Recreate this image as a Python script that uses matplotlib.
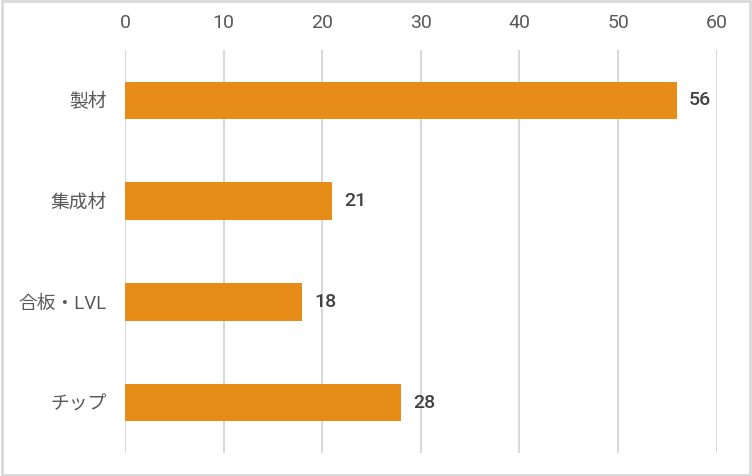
import matplotlib
matplotlib.use('Agg')
import matplotlib.pyplot as plt

plt.rcParams['font.family'] = ['Roboto', 'Noto Sans CJK JP', 'DejaVu Sans']

categories = ['製材', '集成材', '合板・LVL', 'チップ']
values = [56, 21, 18, 28]
x_ticks = [0, 10, 20, 30, 40, 50, 60]

bar_color = '#E68C17'
grid_color = '#D9D9D9'
label_color = '#595959'

fig = plt.figure(figsize=(7.52, 4.76), dpi=100)
ax = fig.add_axes([0.1662, 0.0483, 0.953 - 0.1662, 0.895 - 0.0483])

y = list(range(len(categories)))
ax.barh(y, values, height=0.37, color=bar_color, zorder=3)

for yi, v in zip(y, values):
    ax.text(v + 1.2, yi, str(v), va='center', ha='left',
            fontsize=14, color='#404040', fontweight='medium')

ax.set_xlim(0, 60)
ax.set_ylim(len(categories) - 0.5, -0.5)
ax.set_xticks(x_ticks)
ax.set_yticks(y)
ax.set_yticklabels(categories)
ax.xaxis.tick_top()
ax.tick_params(axis='x', length=0, pad=13, labelsize=14, colors=label_color)
ax.tick_params(axis='y', length=0, pad=13, labelsize=13.5, colors=label_color)

ax.grid(axis='x', color=grid_color, linewidth=1.5, zorder=0)
for s in ax.spines.values():
    s.set_visible(False)

# outer frame
fig.patches.append(plt.Rectangle((0.002, 0.003), 0.996, 0.994, transform=fig.transFigure,
                                 fill=False, edgecolor=grid_color, linewidth=2))

fig.savefig('out.png', dpi=100)
